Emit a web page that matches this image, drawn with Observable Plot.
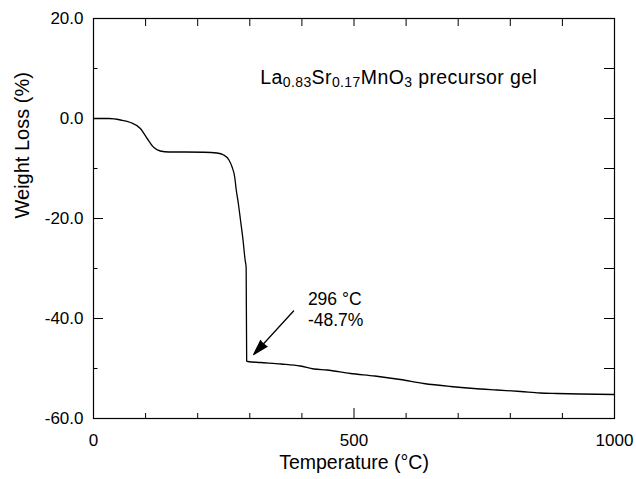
<!DOCTYPE html>
<html>
<head>
<meta charset="utf-8">
<script src="https://cdn.jsdelivr.net/npm/d3@7"></script>
<script src="https://cdn.jsdelivr.net/npm/@observablehq/plot@0.6"></script>
<style>
  html, body { margin: 0; padding: 0; background: white; }
</style>
</head>
<body>
<div id="chart"></div>
<script>
// ---- Data ----
const temperature = [0, 30, 52, 71, 90, 103, 116, 128, 145, 160,
  212, 237, 250, 260, 266, 271, 274, 278, 282, 287,
  291, 293, 294, 296, 320, 360, 397, 423, 448, 493,
  540, 589, 634, 685, 730, 774, 820, 857, 889, 934, 1000];
const weightLoss = [0, 0, -0.3, -0.8, -2.0, -4.0, -5.8, -6.5, -6.7, -6.7,
  -6.75, -6.9, -7.3, -8.3, -9.7, -11.7, -14.3, -17.0, -20.2, -24.3,
  -28.3, -29.8, -48.5, -48.6, -48.8, -49.1, -49.5, -50.1, -50.3, -51.0,
  -51.5, -52.2, -53.0, -53.6, -54.0, -54.3, -54.6, -54.9, -55.0, -55.1, -55.2];

const xMajorTicks = [0, 500, 1000];
const xMinorTicks = [100, 200, 300, 400, 600, 700, 800, 900];
const yMajorTicks = [20, 0, -20, -40, -60];
const yMinorTicks = [10, -10, -30, -50];

const xTitle = "Temperature (°C)";
const yTitle = "Weight Loss (%)";
const sampleLabel = "La0.83Sr0.17MnO3 precursor gel";
const sampleLabelParts = [["La", false], ["0.83", true], ["Sr", false], ["0.17", true], ["MnO", false], ["3", true], [" precursor gel", false]];
const annotationText = "296 °C\n-48.7%";
// annotation anchors in data units (temperature, weight loss)
const sampleLabelPos = [{t: 320, w: 8.1}];
const annotationPos = [{t: 411.5, w: -34.2}];
const arrowPos = [{t1: 384, w1: -38.5, t2: 307.5, w2: -47.2}];

const curve = temperature.map((t, i) => ({t, w: weightLoss[i]}));

// ---- Layout ----
const width = 636, height = 479;
const mL = 93, mR = 22, mT = 18, mB = 61;
const innerW = width - mL - mR, innerH = height - mT - mB;
const font = "'Liberation Sans', Arial, Helvetica, sans-serif";

const chart = Plot.plot({
  width, height,
  marginLeft: mL, marginRight: mR, marginTop: mT, marginBottom: mB,
  style: {fontFamily: font, fontSize: "17px", color: "black", background: "white", overflow: "visible"},
  x: {domain: [0, 1000], label: null},
  y: {domain: [-60, 20], label: null},
  marks: [
    Plot.frame({stroke: "black", strokeWidth: 1.2}),
    // inward ticks: left
    Plot.tickY(yMajorTicks, {y: d => d, insetRight: innerW - 10, stroke: "black", strokeWidth: 1}),
    Plot.tickY(yMinorTicks, {y: d => d, insetRight: innerW - 4.5, stroke: "black", strokeWidth: 1}),
    // right
    Plot.tickY(yMajorTicks.concat(yMinorTicks), {y: d => d, insetLeft: innerW - 10, stroke: "black", strokeWidth: 1}),
    // bottom
    Plot.tickX(xMajorTicks, {x: d => d, insetTop: innerH - 10, stroke: "black", strokeWidth: 1}),
    Plot.tickX(xMinorTicks, {x: d => d, insetTop: innerH - 5, stroke: "black", strokeWidth: 1}),
    // top
    Plot.tickX(xMajorTicks.concat(xMinorTicks), {x: d => d, insetBottom: innerH - 8, stroke: "black", strokeWidth: 1}),
    Plot.axisY({ticks: yMajorTicks, tickSize: 0, tickPadding: 10, tickFormat: d => d.toFixed(1), fontSize: 17, label: null}),
    Plot.axisX({ticks: xMajorTicks, tickSize: 0, tickPadding: 15, tickFormat: d => String(d), fontSize: 17, label: null}),
    Plot.line(curve, {x: "t", y: "w", stroke: "black", strokeWidth: 1.3, curve: "monotone-x"}),
    Plot.arrow(arrowPos, {x1: "t1", y1: "w1", x2: "t2", y2: "w2", stroke: "black", fill: "black",
      strokeWidth: 1.3, headLength: 18, headAngle: 32}),
    Plot.text(annotationPos, {x: "t", y: "w", text: () => annotationText, textAnchor: "start",
      lineAnchor: "top", lineHeight: 1.23, fontSize: 17.5, fill: "black"}),
    Plot.text(sampleLabelPos, {x: "t", y: "w", text: () => sampleLabel, textAnchor: "start",
      fontSize: 19.5, fill: "black", className: "sample-label"}),
    Plot.text([yTitle], {text: d => d, frameAnchor: "left", rotate: -90, dx: -71, fontSize: 20, fill: "black"}),
    Plot.text([xTitle], {text: d => d, frameAnchor: "bottom", dy: 50, fontSize: 19.5, fill: "black"})
  ]
});

// build subscripts for the chemical formula as real text tspans
const t = chart.querySelector(".sample-label text");
if (t) {
  t.textContent = "";
  t.setAttribute("letter-spacing", "0.4");
  let lowered = false;
  for (const [s, sub] of sampleLabelParts) {
    const ts = document.createElementNS("http://www.w3.org/2000/svg", "tspan");
    ts.textContent = s;
    if (sub) { ts.setAttribute("font-size", "14"); }
    if (sub && !lowered) { ts.setAttribute("dy", "3"); lowered = true; }
    else if (!sub && lowered) { ts.setAttribute("dy", "-3"); lowered = false; }
    t.appendChild(ts);
  }
}

document.getElementById("chart").appendChild(chart);
</script>
</body>
</html>
